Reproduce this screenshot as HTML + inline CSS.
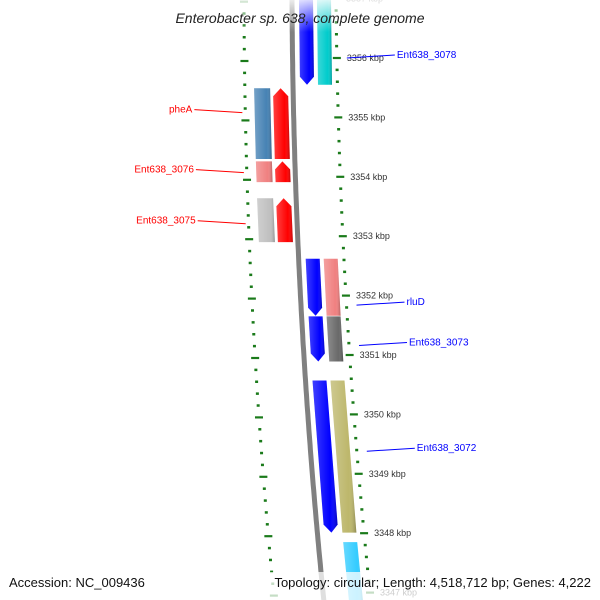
<!DOCTYPE html>
<html><head><meta charset="utf-8"><style>
html,body{margin:0;padding:0;background:#fff;}
svg{display:block;font-family:"Liberation Sans",sans-serif;}
</style></head><body>
<svg id="map" width="600" height="600" viewBox="0 0 600 600">
<defs>
<linearGradient id="fade" x1="0" y1="0" x2="0" y2="1"><stop offset="0" stop-color="#fff" stop-opacity="0.85"/><stop offset="1" stop-color="#fff" stop-opacity="0"/></linearGradient>
<linearGradient id="shade" x1="0" y1="0" x2="1" y2="0"><stop offset="0" stop-color="#fff" stop-opacity="0.25"/><stop offset="0.7" stop-color="#fff" stop-opacity="0"/><stop offset="1" stop-color="#000" stop-opacity="0.25"/></linearGradient>
</defs>
<g id="ticks"></g>
<g id="genes"></g>
<g id="labels"></g>
<rect x="0" y="0" width="600" height="32" fill="url(#fade)"/>
<text x="300" y="23" text-anchor="middle" font-size="14" font-style="italic" fill="#222">Enterobacter sp. 638, complete genome</text>
<rect x="0" y="572" width="600" height="28" fill="#fff" fill-opacity="0.75"/>
<text x="9" y="587" font-size="13" fill="#111">Accession: NC_009436</text>
<text x="591" y="587" font-size="13" fill="#111" text-anchor="end">Topology: circular; Length: 4,518,712 bp; Genes: 4,222</text>
</svg>
<script>
// data
const tickKbp = [3357,3356,3355,3354,3353,3352,3351,3350,3349,3348,3347,3346];
const geneNames = ["Ent638_3078a","Ent638_3078","pheA","pheA_rna","Ent638_3076","Ent638_3076_rna","Ent638_3075","Ent638_3075_rna","rluD_cds","rluD","Ent638_3073_cds","Ent638_3073","Ent638_3072_cds","Ent638_3072","Ent638_3071"];
const geneStart = [3356.98,3356.98,3355.49,3355.49,3354.26,3354.26,3353.64,3353.64,3352.62,3352.62,3351.65,3351.65,3350.57,3350.57,3347.85];
const geneEnd   = [3355.55,3355.55,3354.30,3354.30,3353.91,3353.91,3352.90,3352.90,3351.66,3351.66,3350.89,3350.89,3348.01,3348.01,3346.8];
const geneTrack = [1,2,-2,-1,-2,-1,-2,-1,1,2,1,2,1,2,2];
const geneStrand= [-1,0,0,1,0,1,0,1,-1,0,-1,0,-1,0,0];
const geneColor = ["#0000ff","#00cccc","#4682b4","#ff0000","#f08080","#ff0000","#c0c0c0","#ff0000","#0000ff","#f08080","#0000ff","#696969","#0000ff","#bdb76b","#33ccff"];
const labelText = ["Ent638_3078","pheA","Ent638_3076","Ent638_3075","rluD","Ent638_3073","Ent638_3072"];
const labelKbp  = [3356.0,3355.08,3354.07,3353.21,3351.84,3351.16,3349.38];
const labelSide = [1,-1,-1,-1,1,1,1];
const labelColor= ["#0000ff","#ff0000","#ff0000","#ff0000","#0000ff","#0000ff","#0000ff"];

const NS="http://www.w3.org/2000/svg";
const svg=document.getElementById('map');
const yOf=k=>58+(3356-k)*59.4;
const bb=y=>292+0.005*y+0.00008*y*y;          // backbone x
const rr=y=>336+0.01*y+0.00008*y*y;           // right ruler
const lr=y=>244+0.003*y+0.00008*y*y;          // left ruler
const trackOff={"-2":[-39,-23],"-1":[-20,-5],"1":[7,21],"2":[25,39]};
function mk(tag,attrs,parent){const e=document.createElementNS(NS,tag);for(const k in attrs)e.setAttribute(k,attrs[k]);parent.appendChild(e);return e;}

// backbone
const bp=[];for(let y=-5;y<=605;y+=5)bp.push(bb(y).toFixed(1)+","+y);
const back=mk('polyline',{points:bp.join(' '),fill:'none',stroke:'#808080','stroke-width':5},document.getElementById('ticks'));



// ticks
const tg=document.getElementById('ticks');
for(let i=0;i<tickKbp.length-1;i++){
  for(let j=0;j<5;j++){
    const k=tickKbp[i]-j*0.2,y=yOf(k);
    if(y<-5||y>605)continue;
    const major=j===0, len=major?8:3;
    const xr=rr(y), xl=lr(y);
    const t1=mk('line',{x1:xr-len/2,y1:y,x2:xr+len/2,y2:y,stroke:'#1a7a1a','stroke-width':major?2.2:2.5},tg);
    
    
    const t2=mk('line',{x1:xl-len/2,y1:y+3,x2:xl+len/2,y2:y+3,stroke:'#1a7a1a','stroke-width':major?2.2:2.5},tg);
    
    
    if(major){
      const tx=mk('text',{x:xr+10,y:y+3,'font-size':9,fill:'#333'},tg);
      tx.textContent=tickKbp[i]+' kbp';
      
      
    }
  }
}

// genes
const gg=document.getElementById('genes');
for(let i=0;i<geneNames.length;i++){
  const y1=yOf(geneStart[i]),y2=yOf(geneEnd[i]);
  const [o1,o2]=trackOff[geneTrack[i]];
  const pts=[];const ah=8;
  const xa=y=>bb(y)+o1, xb=y=>bb(y)+o2;
  if(geneStrand[i]===1){ // pointing up
    pts.push([xa(y2),y2],[xa(y1+ah),y1+ah],[(xa(y1)+xb(y1))/2,y1],[xb(y1+ah),y1+ah],[xb(y2),y2]);
  }else if(geneStrand[i]===-1){ // pointing down
    pts.push([xa(y1),y1],[xb(y1),y1],[xb(y2-ah),y2-ah],[(xa(y2)+xb(y2))/2,y2],[xa(y2-ah),y2-ah]);
  }else{
    pts.push([xa(y1),y1],[xb(y1),y1],[xb(y2),y2],[xa(y2),y2]);
  }
  const ps=pts.map(p=>p[0].toFixed(1)+','+p[1].toFixed(1)).join(' ');
  const g=mk('polygon',{points:ps,fill:geneColor[i]},gg);
  
  
  const s=mk('polygon',{points:ps,fill:'url(#shade)'},gg);
  
  
}

// labels
const lg=document.getElementById('labels');
for(let i=0;i<labelText.length;i++){
  const y=yOf(labelKbp[i]);
  let x1,x2,tx,anchor;
  if(labelSide[i]===1){x1=rr(y)+10;x2=x1+48;tx=x2+2;anchor='start';}
  else{x1=lr(y)-3;x2=x1-48;tx=x2-2;anchor='end';}
  const ln=mk('line',{x1:x1,y1:y,x2:x2,y2:y-3,stroke:labelColor[i],'stroke-width':1},lg);
  
  
  const t=mk('text',{x:tx,y:y,'font-size':10,fill:labelColor[i],'text-anchor':anchor},lg);
  t.textContent=labelText[i];
  
  
}
</script>
</body></html>
